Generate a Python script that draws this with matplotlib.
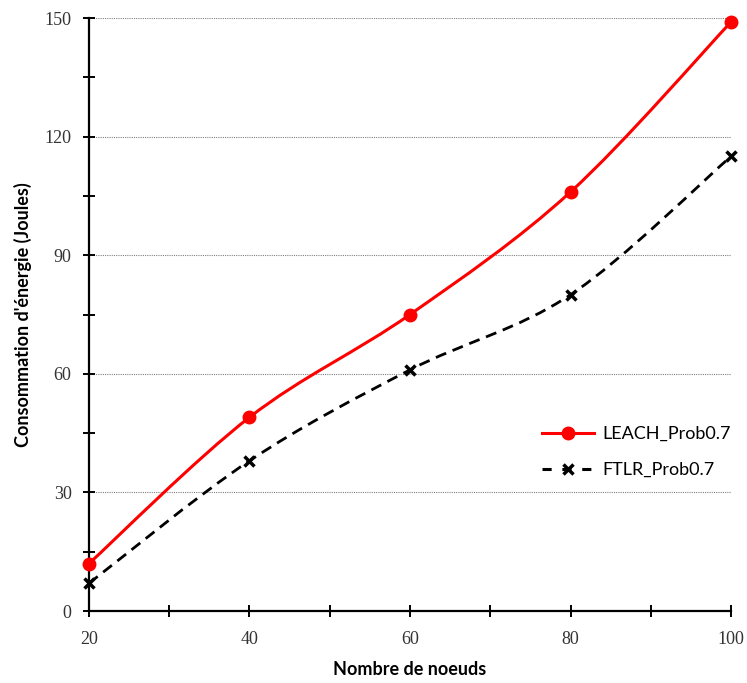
import matplotlib.pyplot as plt
from matplotlib.path import Path
from matplotlib.patches import PathPatch
from matplotlib.lines import Line2D
import numpy as np

# data
nodes = [20, 40, 60, 80, 100]
leach = [12, 49, 75, 106, 149]
ftlr = [7, 38, 61, 80, 115]
labels = ['LEACH_Prob0.7', 'FTLR_Prob0.7']

label_font = ['Lato', 'DejaVu Sans']
tick_font = ['Liberation Serif', 'DejaVu Serif']


def smooth_path(x, y):
    # Excel-style smoothed line: cubic Bezier through each point (Catmull-Rom)
    x = np.asarray(x, float)
    y = np.asarray(y, float)
    verts = [(x[0], y[0])]
    codes = [Path.MOVETO]
    n = len(x)
    for i in range(n - 1):
        p0 = (x[i - 1], y[i - 1]) if i > 0 else (x[i], y[i])
        p1 = (x[i], y[i])
        p2 = (x[i + 1], y[i + 1])
        p3 = (x[i + 2], y[i + 2]) if i + 2 < n else (x[i + 1], y[i + 1])
        c1 = (p1[0] + (p2[0] - p0[0]) / 6, p1[1] + (p2[1] - p0[1]) / 6)
        c2 = (p2[0] - (p3[0] - p1[0]) / 6, p2[1] - (p3[1] - p1[1]) / 6)
        verts += [c1, c2, p2]
        codes += [Path.CURVE4] * 3
    return Path(verts, codes)


fig = plt.figure(figsize=(7.47, 6.83), dpi=100)
ax = fig.add_axes([0.1191, 0.1054, 0.8595, 0.8682])

ax.set_xlim(20, 100)
ax.set_ylim(0, 150)

# gridlines
ax.set_yticks([0, 30, 60, 90, 120, 150])
ax.set_yticks([15, 45, 75, 105, 135], minor=True)
ax.set_xticks([20, 40, 60, 80, 100])
ax.set_xticks([30, 50, 70, 90], minor=True)
for yv in [30, 60, 90, 120, 150]:
    ax.axhline(yv, color='#808080', linestyle=(0, (1, 1)), linewidth=0.8, zorder=0)

# curves
ax.add_patch(PathPatch(smooth_path(nodes, leach), facecolor='none',
                       edgecolor='#ff0000', linewidth=2.2, zorder=3))
ax.add_patch(PathPatch(smooth_path(nodes, ftlr), facecolor='none',
                       edgecolor='black', linewidth=2.0, linestyle=(0, (4, 2.5)), zorder=3))
ax.plot(nodes, leach, linestyle='none', marker='o', markersize=9,
        color='#ff0000', clip_on=False, zorder=4)
ax.plot(nodes, ftlr, linestyle='none', marker='x', markersize=7,
        markeredgewidth=2.5, color='black', clip_on=False, zorder=4)

# axes styling
for side in ['top', 'right']:
    ax.spines[side].set_visible(False)
for side in ['left', 'bottom']:
    ax.spines[side].set_linewidth(1.6)
ax.tick_params(which='both', direction='inout', length=9, width=1.4)
ax.tick_params(axis='x', which='both', pad=10)
ax.tick_params(axis='y', which='both', pad=8)

for lab in ax.get_xticklabels() + ax.get_yticklabels():
    lab.set_family(tick_font)
    lab.set_fontsize(13)
    lab.set_color('#333333')

ax.set_xlabel('Nombre de noeuds', family=label_font, fontsize=13,
              fontweight='bold', labelpad=9)
ax.set_ylabel("Consommation d'énergie (Joules)", family=label_font, fontsize=13,
              fontweight='bold', labelpad=9)

handles = [
    Line2D([], [], color='#ff0000', linewidth=2.2, marker='o', markersize=9),
    Line2D([], [], color='black', linewidth=2.2, linestyle=(0, (3, 3.5)),
           marker='x', markersize=7, markeredgewidth=2.5),
]
ax.legend(handles, labels, loc='center left', bbox_to_anchor=(0.68, 0.268),
          frameon=False, prop={'family': label_font, 'size': 13},
          handlelength=2.9, labelspacing=1.1, handletextpad=0.45)

plt.savefig('out.png', dpi=100)
